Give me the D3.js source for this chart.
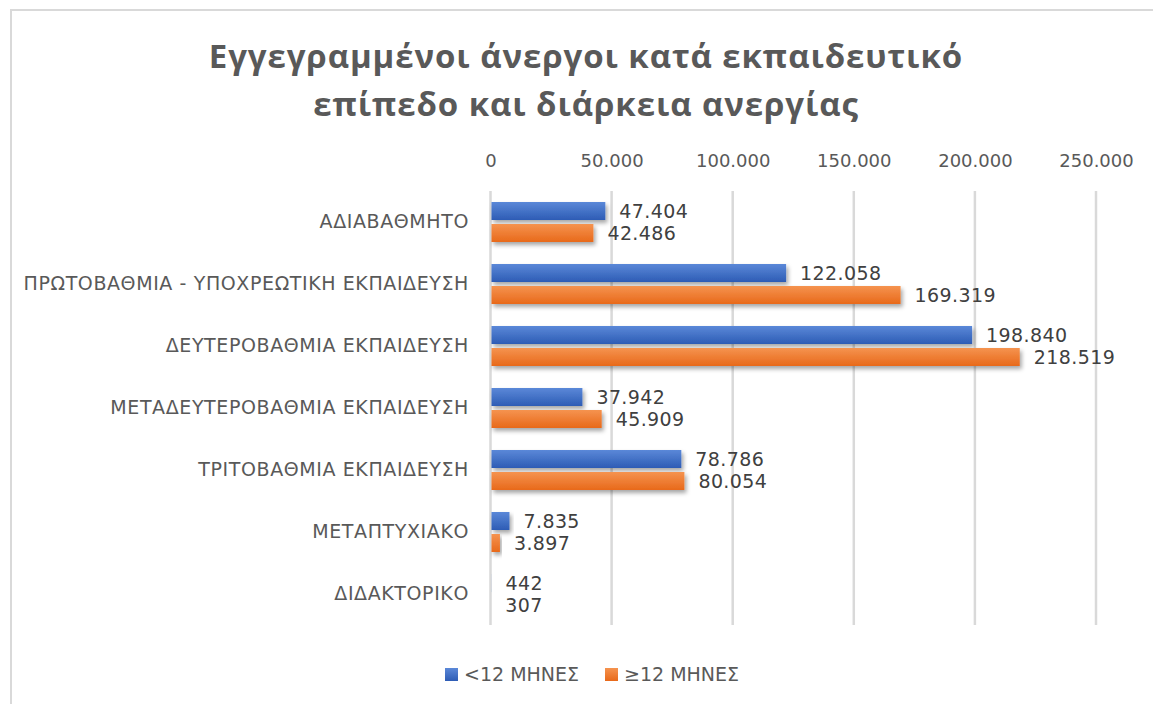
<!DOCTYPE html>
<html>
<head>
<meta charset="utf-8">
<script src="https://cdn.jsdelivr.net/npm/d3@7.9.0/dist/d3.min.js"></script>
<style>
  html, body { margin: 0; padding: 0; background: #fff; }
  svg { display: block; }
</style>
</head>
<body>
<svg id="chart" width="1153" height="704"></svg>
<script>
const titleLines = ['Εγγεγραμμένοι άνεργοι κατά εκπαιδευτικό', 'επίπεδο και διάρκεια ανεργίας'];
const categories = [
  'ΑΔΙΑΒΑΘΜΗΤΟ',
  'ΠΡΩΤΟΒΑΘΜΙΑ - ΥΠΟΧΡΕΩΤΙΚΗ ΕΚΠΑΙΔΕΥΣΗ',
  'ΔΕΥΤΕΡΟΒΑΘΜΙΑ ΕΚΠΑΙΔΕΥΣΗ',
  'ΜΕΤΑΔΕΥΤΕΡΟΒΑΘΜΙΑ ΕΚΠΑΙΔΕΥΣΗ',
  'ΤΡΙΤΟΒΑΘΜΙΑ ΕΚΠΑΙΔΕΥΣΗ',
  'ΜΕΤΑΠΤΥΧΙΑΚΟ',
  'ΔΙΔΑΚΤΟΡΙΚΟ',
];
const seriesNames = ['<12 ΜΗΝΕΣ', '≥12 ΜΗΝΕΣ'];
const under12 = [47404, 122058, 198840, 37942, 78786, 7835, 442];
const over12 = [42486, 169319, 218519, 45909, 80054, 3897, 307];
const xTicks = [0, 50000, 100000, 150000, 200000, 250000];

const grLocale = d3.formatLocale({ decimal: ',', thousands: '.', grouping: [3], currency: ['', ' €'] });
const fmt = grLocale.format(',d');

const svg = d3.select('#chart');
const defs = svg.append('defs');

const palette = [
  { id: 'gBlue', top: '#5b88d8', bottom: '#2e5cb5' },
  { id: 'gOrange', top: '#f5934f', bottom: '#e8691a' },
];
palette.forEach(p => {
  const g = defs.append('linearGradient').attr('id', p.id)
    .attr('x1', 0).attr('y1', 0).attr('x2', 0).attr('y2', 1);
  g.append('stop').attr('offset', '0%').attr('stop-color', p.top);
  g.append('stop').attr('offset', '100%').attr('stop-color', p.bottom);
});
defs.append('filter').attr('id', 'shadow')
  .attr('x', '-10%').attr('y', '-30%').attr('width', '130%').attr('height', '180%')
  .append('feDropShadow')
  .attr('dx', 2).attr('dy', 3).attr('stdDeviation', 2)
  .attr('flood-color', '#000').attr('flood-opacity', 0.35);

// chart frame (only top and left edges are visible in the crop)
svg.append('path')
  .attr('d', 'M11,704 V10 H1153')
  .attr('fill', 'none').attr('stroke', '#d9d9d9').attr('stroke-width', 2);

// title
svg.append('text')
  .attr('x', 586).attr('y', 68)
  .attr('text-anchor', 'middle')
  .attr('font-family', 'Open Sans, sans-serif')
  .attr('font-weight', 'bold')
  .attr('font-size', 33)
  .attr('letter-spacing', 0.9)
  .attr('fill', '#595959')
  .selectAll('tspan')
  .data(titleLines)
  .enter()
  .append('tspan')
  .attr('x', 586)
  .attr('dy', (d, i) => (i === 0 ? 0 : 48))
  .text(d => d);

const x = d3.scaleLinear().domain([0, 250000]).range([490.5, 1096]);
const y0 = d3.scaleBand().domain(categories).range([191, 625])
  .paddingInner(22 / 62).paddingOuter(11 / 62);
const y1 = d3.scaleBand().domain(seriesNames).range([0, y0.bandwidth()])
  .paddingInner(4 / 22);

// gridlines
svg.append('g')
  .selectAll('line')
  .data(xTicks)
  .enter()
  .append('line')
  .attr('x1', d => x(d)).attr('x2', d => x(d))
  .attr('y1', 191).attr('y2', 625)
  .attr('stroke', '#d9d9d9').attr('stroke-width', 2.5);

// top axis labels
const xAxis = d3.axisTop(x).tickValues(xTicks).tickFormat(fmt).tickSize(0).tickPadding(0);
const axisG = svg.append('g').attr('transform', 'translate(0,167)').call(xAxis);
axisG.select('.domain').remove();
axisG.selectAll('text')
  .attr('font-family', 'DejaVu Sans, sans-serif')
  .attr('font-size', 18)
  .attr('fill', '#595959')
  .attr('dy', 0);

// category labels
const yAxis = d3.axisLeft(y0).tickSize(0).tickPadding(0);
const yG = svg.append('g').attr('transform', 'translate(469,0)').call(yAxis);
yG.select('.domain').remove();
yG.selectAll('text')
  .attr('font-family', 'DejaVu Sans, sans-serif')
  .attr('font-size', 19)
  .attr('letter-spacing', 0.6)
  .attr('fill', '#595959');

// bars
const rows = categories.map((c, i) => ({ cat: c, values: [under12[i], over12[i]] }));
const groups = svg.append('g')
  .selectAll('g')
  .data(rows)
  .enter()
  .append('g')
  .attr('transform', d => `translate(0,${y0(d.cat)})`);

groups.selectAll('rect')
  .data(d => d.values.map((v, k) => ({ series: seriesNames[k], k, v })))
  .enter()
  .append('rect')
  .attr('x', x(0) + 1)
  .attr('y', d => y1(d.series))
  .attr('width', d => Math.max(0, x(d.v) - x(0) - 1))
  .attr('height', y1.bandwidth())
  .attr('fill', d => `url(#${palette[d.k].id})`)
  .attr('filter', 'url(#shadow)');

groups.selectAll('text')
  .data(d => d.values.map((v, k) => ({ series: seriesNames[k], k, v })))
  .enter()
  .append('text')
  .attr('x', d => x(d.v) + 14)
  .attr('y', d => y1(d.series) + y1.bandwidth() / 2)
  .attr('dy', '0.36em')
  .attr('font-family', 'DejaVu Sans, sans-serif')
  .attr('font-size', 19)
  .attr('letter-spacing', 0.4)
  .attr('fill', '#404040')
  .text(d => fmt(d.v));

// legend
const legendItems = [
  { name: seriesNames[0], x: 445, grad: palette[0].id },
  { name: seriesNames[1], x: 605, grad: palette[1].id },
];
const lg = svg.append('g')
  .selectAll('g')
  .data(legendItems)
  .enter()
  .append('g')
  .attr('transform', d => `translate(${d.x},668)`);
lg.append('rect')
  .attr('width', 13).attr('height', 13)
  .attr('fill', d => `url(#${d.grad})`);
lg.append('text')
  .attr('x', 19).attr('y', 13)
  .attr('font-family', 'DejaVu Sans, sans-serif')
  .attr('font-size', 19)
  .attr('fill', '#595959')
  .text(d => d.name);
</script>
</body>
</html>
